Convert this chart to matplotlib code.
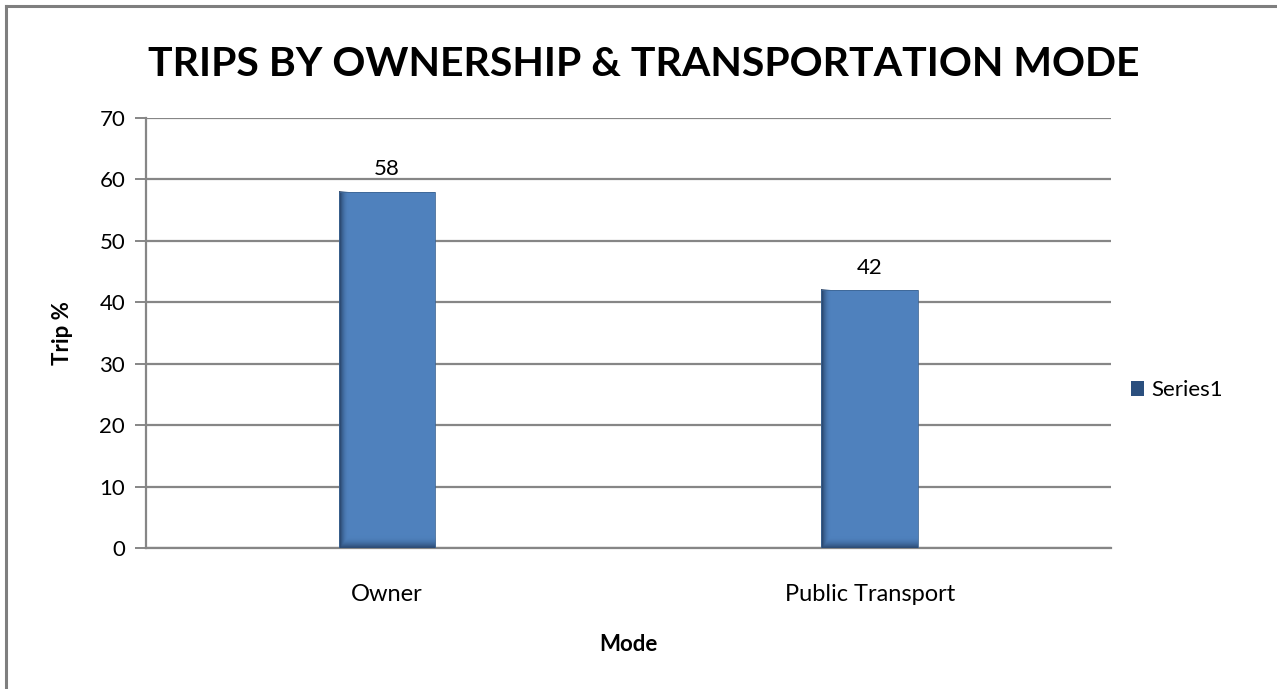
import matplotlib.pyplot as plt
import numpy as np
from matplotlib.colors import LinearSegmentedColormap
from matplotlib.lines import Line2D
from matplotlib.patches import Rectangle

# trip share by mode (percent)
modes = ["Owner", "Public Transport"]
trip_pct = [58, 42]
y_ticks = [0, 10, 20, 30, 40, 50, 60, 70]

BAR = "#4F81BD"
GRID = "#868686"

plt.rcParams["font.family"] = ["Lato", "DejaVu Sans"]

fig = plt.figure(figsize=(12.77, 6.89), dpi=100)
fig.patch.set_facecolor("white")

# outer chart frame (left and top edges only are on the page)
fig.add_artist(Line2D([0.0047, 0.0047], [0.0, 0.991], transform=fig.transFigure,
                      color="#7f7f7f", lw=2.2))
fig.add_artist(Line2D([0.0047, 1.0], [0.991, 0.991], transform=fig.transFigure,
                      color="#7f7f7f", lw=2.2))

ax = fig.add_axes([0.1143, 0.2046, 0.7557, 0.6241])
x = np.arange(len(modes))
bars = ax.bar(x, trip_pct, width=0.2, color=BAR, zorder=3, label="Series1")

# shaded left edge and bottom on each bar
shade = LinearSegmentedColormap.from_list("shade", [(0.10, 0.18, 0.30, 0.85),
                                                    (0.31, 0.51, 0.74, 0.0)])
for b in bars:
    x0, w, h = b.get_x(), b.get_width(), b.get_height()
    gx = np.linspace(0, 1, 200)
    left = np.clip(1 - gx / 0.10, 0, 1)[None, :]
    gy = np.linspace(0, 1, 200)[:, None]
    bottom = np.clip(1 - gy * h / 1.8, 0, 1)
    a = np.maximum(left, bottom * 0.85)
    ax.imshow(1 - a, cmap=shade, vmin=0, vmax=1, origin="lower",
              extent=(x0, x0 + w, 0, h), aspect="auto", zorder=4,
              interpolation="bilinear")
    ax.add_patch(Rectangle((x0, 0), w, h, fill=False, ec="#3d6594", lw=0.6, zorder=5))
    ax.text(b.get_x() + w / 2, h + 2.0, f"{h:g}", ha="center", va="bottom",
            fontsize=16, color="black", zorder=6)

ax.set_xlim(-0.5, len(modes) - 0.5)
ax.set_ylim(0, 70)
ax.set_yticks(y_ticks)
ax.set_xticks(x)
ax.set_xticklabels(modes, fontsize=17)
ax.tick_params(axis="x", length=0, pad=26)
ax.tick_params(axis="y", length=8, width=1.4, color=GRID, labelsize=16, pad=7)
ax.yaxis.grid(True, color=GRID, lw=1.6, zorder=0)
ax.set_axisbelow(True)
for side in ("top", "right"):
    ax.spines[side].set_visible(False)
for side in ("left", "bottom"):
    ax.spines[side].set_color(GRID)
    ax.spines[side].set_linewidth(1.6)

ax.set_ylabel("Trip %", fontsize=16, fontweight="bold", labelpad=19)
ax.set_xlabel("Mode", fontsize=16, fontweight="bold", labelpad=21)

fig.text(0.504, 0.907, "TRIPS BY OWNERSHIP & TRANSPORTATION MODE",
         ha="center", va="center", fontsize=29.5, fontweight="bold")

leg = ax.legend(loc="center left", bbox_to_anchor=(1.0, 0.367), frameon=False,
                fontsize=16, handlelength=0.6, handleheight=0.7, handletextpad=0.3)
for p in leg.get_patches():
    p.set_facecolor("#2b4f7e")

fig.savefig("out.png", dpi=100, facecolor="white")
